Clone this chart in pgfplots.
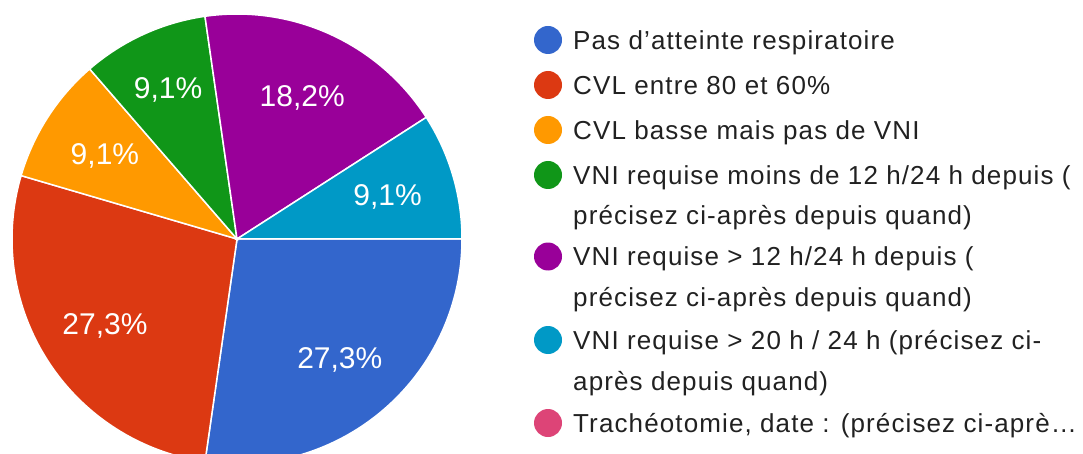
\documentclass[border=0pt]{standalone}
\usepackage{pgfplots}
\pgfplotsset{compat=1.18}
\usepackage{fontspec}
\setmainfont{Liberation Sans}
\newfontfamily\legff[LetterSpace=4.3]{Liberation Sans}
\definecolor{c1}{HTML}{3366CC}
\definecolor{c2}{HTML}{DC3912}
\definecolor{c3}{HTML}{FF9900}
\definecolor{c4}{HTML}{109618}
\definecolor{c5}{HTML}{990099}
\definecolor{c6}{HTML}{0099C6}
\definecolor{c7}{HTML}{DD4477}
\definecolor{txt}{HTML}{212121}
\newcommand\legfont{\legff\fontsize{26}{39}\selectfont}
\newcommand\labfont{\fontsize{30}{36}\selectfont}
% legend entry: #1 = row centre (pixels from top), #2 = colour, #3 = text
\newcommand\legrow[3]{%
  \fill[#2] (axis cs:548,{453-#1}) circle[radius=14pt];
  \node[anchor=base west, inner sep=0pt, font=\legfont, text=txt] at (axis cs:573,{453-#1-9.3}) {#3};}
\newcommand\legline[2]{%
  \node[anchor=base west, inner sep=0pt, font=\legfont, text=txt] at (axis cs:573,{453-#1-9.3}) {#2};}
\begin{document}
\begin{tikzpicture}
\begin{axis}[
  name=ax, x=1pt, y=1pt, xmin=0, xmax=1083, ymin=0, ymax=453,
  hide axis, clip=true,
]
\gdef\cum{0}
\foreach \vv/\vc in {27.3/c1,27.3/c2,9.1/c3,9.1/c4,18.2/c5,9.1/c6}{
  \pgfmathsetmacro\vs{-3.6*\cum/1.001}
  \pgfmathsetmacro\ve{-3.6*(\cum+\vv)/1.001}
  \edef\tmp{\noexpand\addplot[fill=\vc, draw=white, line width=1.5pt, domain=\vs:\ve, samples=120, variable=\noexpand\t]
    ({237+225*cos(\noexpand\t)},{214+225*sin(\noexpand\t)}) -- (axis cs:237,214) -- cycle;}
  \tmp
  \pgfmathsetmacro\nn{\cum+\vv}
  \xdef\cum{\nn}
}
\gdef\cum{0}
\foreach \vv/\rr in {27.3/157,27.3/157,9.1/157,9.1/166,18.2/157,9.1/157}{
  \pgfmathsetmacro\vm{-3.6*(\cum+\vv/2)/1.001}
  \pgfmathsetmacro\lx{237+\rr*cos(\vm)}
  \pgfmathsetmacro\ly{214+\rr*sin(\vm)}
  \edef\tmp{\noexpand\node[text=white, font=\noexpand\labfont, inner sep=0pt, text depth=0pt] at (axis cs:\lx,\ly)
    {\noexpand\pgfmathprintnumber[fixed,fixed zerofill,precision=1,use comma,assume math mode=true]{\vv}\noexpand\%};}
  \tmp
  \pgfmathsetmacro\nn{\cum+\vv}
  \xdef\cum{\nn}
}
% legend
\legrow{40}{c1}{Pas d’atteinte respiratoire}
\legrow{85}{c2}{CVL entre 80 et 60\%}
\legrow{130}{c3}{CVL basse mais pas de VNI}
\legrow{175}{c4}{VNI requise moins de 12 h/24 h depuis (}
\legline{215.5}{précisez ci-après depuis quand)}
\legrow{256.5}{c5}{VNI requise > 12 h/24 h depuis (}
\legline{297.5}{précisez ci-après depuis quand)}
\legrow{340}{c6}{VNI requise > 20 h / 24 h (précisez ci-}
\legline{381.5}{après depuis quand)}
\legrow{423}{c7}{Trachéotomie, date : (précisez ci-aprè…}
\end{axis}
\pgfresetboundingbox
\path[use as bounding box] (ax.south west) rectangle (ax.north east);
\end{tikzpicture}
\end{document}
